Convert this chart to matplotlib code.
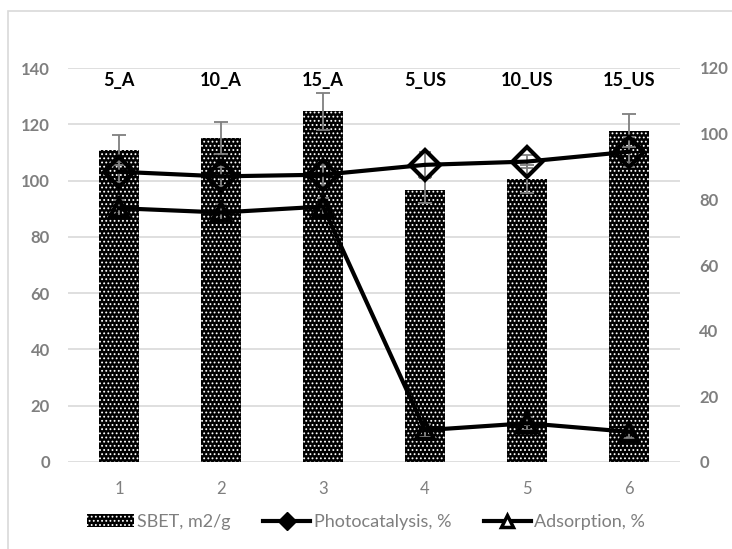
import matplotlib.pyplot as plt
import matplotlib.patches as mpatches
from matplotlib.lines import Line2D
import numpy as np

# data
samples = [1, 2, 3, 4, 5, 6]
sample_names = ["5_A", "10_A", "15_A", "5_US", "10_US", "15_US"]
sbet = [110.9, 115.0, 124.6, 96.7, 100.6, 117.7]
sbet_err = [5.3, 5.7, 6.5, 4.6, 5.0, 5.9]
photocatalysis = [88.4, 87.0, 87.5, 90.5, 91.5, 94.5]
photo_err = [3.0, 3.0, 3.0, 4.0, 2.0, 4.5]
adsorption = [77.3, 76.0, 77.8, 9.7, 11.8, 9.2]
ads_err = [2.5, 2.5, 2.5, 2.0, 2.0, 2.0]

grey = "#7f7f7f"
grid_grey = "#d9d9d9"

plt.rcParams.update({
    "font.family": ["Lato", "DejaVu Sans"],
    "hatch.linewidth": 0.8,
})

fig = plt.figure(figsize=(7.32, 5.49), dpi=100)
fig.patches.append(mpatches.Rectangle((8 / 732, -0.1), 1.2, 1 - 11 / 549 + 0.1,
                                      transform=fig.transFigure, fill=False,
                                      edgecolor=grid_grey, linewidth=1.2))
ax = fig.add_axes([68 / 732, 1 - 462 / 549, (680 - 68) / 732, (462 - 68) / 549])
ax2 = ax.twinx()

x = np.array(samples)

# bars (left axis)
ax.bar(x, sbet, width=0.4, color="black", edgecolor="white", linewidth=0,
       hatch="....", zorder=2)
ax.errorbar(x, sbet, yerr=sbet_err, fmt="none", ecolor=grey, elinewidth=1.3,
            capsize=5, capthick=1.3, zorder=3)

# lines (right axis)
ax2.errorbar(x, photocatalysis, yerr=photo_err, fmt="none", ecolor=grey,
             elinewidth=1.3, capsize=4, capthick=1.3, zorder=2)
ax2.errorbar(x, adsorption, yerr=ads_err, fmt="none", ecolor=grey,
             elinewidth=1.3, capsize=4, capthick=1.3, zorder=2)
ax2.plot(x, photocatalysis, color="black", linewidth=3, marker="D",
         markersize=15, markerfacecolor="none", markeredgewidth=3, zorder=3)
ax2.plot(x, adsorption, color="black", linewidth=3, marker="^",
         markersize=13, markerfacecolor="none", markeredgewidth=3, zorder=3)

ax.set_xlim(0.5, 6.5)
ax.set_ylim(0, 140)
ax.set_yticks(np.arange(0, 141, 20))
ax2.set_ylim(0, 120)
ax2.set_yticks(np.arange(0, 121, 20))
ax.set_xticks(x)
ax.set_xticklabels([str(s) for s in samples])

ax.grid(axis="y", color=grid_grey, linewidth=1.2, zorder=0)
ax.set_axisbelow(True)
for a in (ax, ax2):
    for s in a.spines.values():
        s.set_visible(False)
    a.tick_params(length=0)
ax.tick_params(axis="y", labelsize=12, labelcolor=grey, pad=13)
ax.tick_params(axis="x", labelsize=12, labelcolor=grey, pad=14)
ax2.tick_params(axis="y", labelsize=12, labelcolor=grey, pad=14)
for lbl in ax.get_yticklabels() + ax2.get_yticklabels():
    lbl.set_fontweight("bold")

# sample names above the bars
for xi, name in zip(x, sample_names):
    ax.text(xi, 135.5, name, ha="center", va="center", fontsize=13,
            fontweight="bold", color="black")

# legend
handles = [
    mpatches.Patch(facecolor="black", edgecolor="white", linewidth=0, hatch="...."),
    Line2D([], [], color="black", linewidth=3, marker="D", markersize=9),
    Line2D([], [], color="black", linewidth=3, marker="^", markersize=9,
           markerfacecolor="white", markeredgewidth=2.5),
]
labels = ["SBET, m2/g", "Photocatalysis, %", "Adsorption, %"]
leg = fig.legend(handles, labels, loc="center", bbox_to_anchor=(0.5, 1 - 522 / 549),
                 ncol=3, frameon=False, fontsize=13, handlelength=2.6,
                 columnspacing=1.8, handletextpad=0.2)
for t in leg.get_texts():
    t.set_color(grey)

fig.savefig("out.png", dpi=100)
